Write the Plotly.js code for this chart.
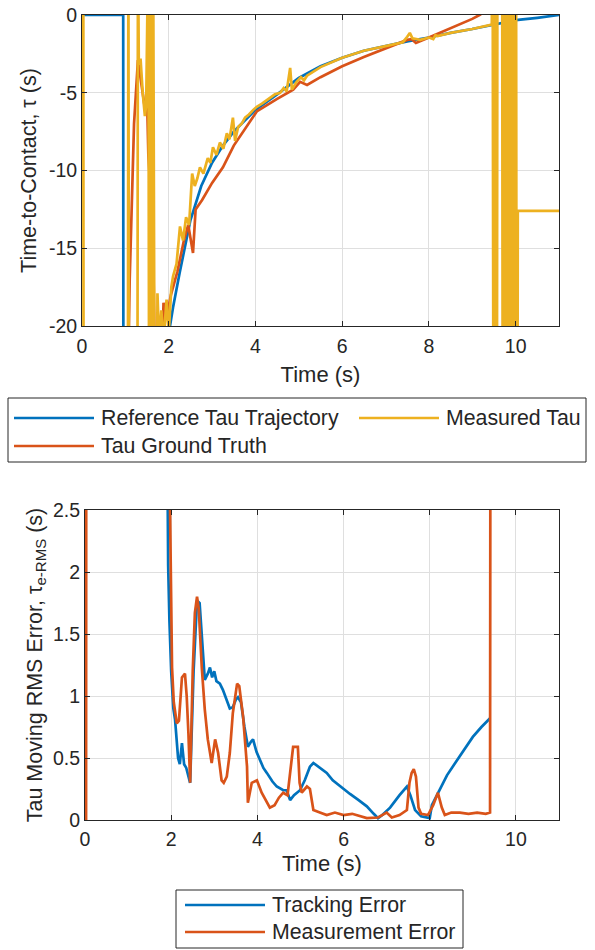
<!DOCTYPE html>
<html>
<head>
<meta charset="utf-8">
<script src="https://cdn.plot.ly/plotly-3.0.1.min.js"></script>
<style>html,body{margin:0;padding:0;background:#fff}#chart{width:595px;height:950px}</style>
</head>
<body>
<div id="chart"></div>
<script>
// ---------------- DATA ----------------
// Top panel: Time-to-Contact (s)
const refT   = [0, 0.95, 0.96, 1.95, 2.0, 2.1, 2.25, 2.5, 2.75, 3.0, 3.25, 3.5, 3.75, 4.0, 4.5, 5.0, 5.5, 6.0, 6.5, 7.0, 7.5, 8.0, 8.5, 9.0, 9.5, 10.0, 10.5, 11.0];
const refTau = [0, 0, -60, -22, -20.5, -18.8, -16.6, -13.2, -11.0, -9.5, -8.4, -7.5, -6.8, -6.1, -5.1, -4.05, -3.3, -2.75, -2.3, -2.0, -1.7, -1.45, -1.15, -0.9, -0.62, -0.33, -0.18, 0];

const gtT   = [1.0, 1.05, 1.1, 1.2, 1.29, 1.38, 1.45, 1.5, 1.53, 1.56, 1.6, 1.63, 1.68, 1.72, 1.82, 1.88, 1.95, 2.05, 2.2, 2.35, 2.45, 2.56, 2.62, 2.77, 3.0, 3.25, 3.5, 3.7, 4.03, 4.5, 4.87, 5.03, 5.19, 5.5, 6.0, 6.5, 7.0, 7.5, 7.6, 7.7, 8.0, 8.5, 9.0, 9.2];
const gtTau = [-40, -25, -17, -7, -2.9, -4.5, -6.0, -5.3, -9.0, -10.4, -14.5, -13.0, -20.5, -30, -25, -18.5, -19.5, -18.0, -16.5, -14.5, -13.5, -15.3, -12.5, -11.9, -10.8, -9.8, -8.4, -7.6, -6.2, -5.4, -4.8, -4.3, -4.5, -4.0, -3.3, -2.7, -2.15, -1.6, -1.55, -1.8, -1.45, -0.85, -0.25, 0.05];

const measT   = [0, 0.03, 0.04, 1.05, 1.07, 1.09, 1.27, 1.29, 1.31, 1.35, 1.4, 1.45, 1.48, 1.53, 1.56, 1.59, 1.62, 1.64, 1.67, 1.7, 1.74, 1.78, 1.83, 1.88, 1.95, 2.0, 2.06, 2.1, 2.18, 2.26, 2.33, 2.4, 2.47, 2.54, 2.6, 2.66, 2.72, 2.8, 2.9, 2.96, 3.02, 3.1, 3.18, 3.26, 3.34, 3.4, 3.48, 3.53, 3.6, 3.68, 3.76, 3.85, 3.95, 4.03, 4.15, 4.25, 4.35, 4.45, 4.57, 4.65, 4.72, 4.8, 4.84, 4.95, 5.05, 5.12, 5.19, 5.3, 5.5, 6.0, 6.5, 7.0, 7.4, 7.5, 7.56, 7.62, 7.8, 8.0, 8.1, 8.15, 8.2, 8.5, 9.0, 9.45, 9.47, 9.5, 9.53, 9.56, 9.58, 9.69, 9.71, 9.73, 9.75, 9.77, 9.79, 9.81, 9.83, 9.85, 9.87, 9.89, 9.91, 9.93, 9.95, 9.97, 9.99, 10.01, 10.03, 10.05, 11.0];
const measTau = [5, 5, -50, -50, 5, -50, -50, 5, -3.2, -2.8, -5.0, -6.5, -5.8, 5, -50, 5, -50, 5, -50, -50, -17.9, -21, -19, -21, -18.3, -20.5, -17.5, -16.8, -16.0, -13.6, -14.5, -13.0, -13.5, -10.2, -11.0, -10.5, -9.8, -10.2, -9.2, -9.5, -8.5, -9.0, -8.2, -8.6, -7.6, -8.0, -6.6, -8.1, -7.2, -7.0, -6.6, -6.4, -6.1, -5.9, -5.7, -5.5, -5.3, -5.1, -5.0, -4.7, -4.9, -3.4, -4.8, -4.3, -4.0, -4.2, -3.9, -3.7, -3.35, -2.75, -2.3, -2.0, -1.75, -1.4, -1.15, -1.5, -1.6, -1.45, -1.55, -1.3, -1.35, -1.15, -0.9, -0.62, 5, -50, 5, -50, 5, 5, -50, 5, -50, 5, -50, 5, -50, 5, -50, 5, -50, 5, -50, 5, -50, 5, -50, -12.6, -12.6];

// Bottom panel: Tau moving RMS error (s)
const trkT   = [1.9, 1.93, 1.96, 2.0, 2.05, 2.09, 2.16, 2.2, 2.25, 2.3, 2.35, 2.44, 2.52, 2.6, 2.66, 2.72, 2.78, 2.85, 2.9, 2.95, 3.0, 3.05, 3.13, 3.2, 3.29, 3.36, 3.43, 3.5, 3.55, 3.62, 3.7, 3.78, 3.85, 3.9, 3.98, 4.06, 4.14, 4.22, 4.35, 4.45, 4.6, 4.68, 4.76, 4.85, 4.99, 5.1, 5.22, 5.3, 5.45, 5.61, 5.75, 5.92, 6.15, 6.35, 6.54, 6.7, 6.8, 6.9, 7.08, 7.3, 7.47, 7.55, 7.66, 7.8, 8.0, 8.05, 8.19, 8.4, 8.63, 8.8, 9.0, 9.2, 9.4];
const trkErr = [3.5, 2.05, 1.6, 1.2, 0.9, 0.81, 0.5, 0.45, 0.62, 0.45, 0.42, 0.3, 1.2, 1.77, 1.75, 1.4, 1.13, 1.18, 1.23, 1.15, 1.2, 1.12, 1.1, 1.05, 0.97, 0.9, 0.91, 0.97, 0.99, 0.95, 0.75, 0.59, 0.63, 0.65, 0.55, 0.48, 0.42, 0.38, 0.31, 0.27, 0.24, 0.24, 0.16, 0.2, 0.24, 0.32, 0.43, 0.46, 0.42, 0.38, 0.32, 0.27, 0.21, 0.16, 0.11, 0.05, 0.015, 0.04, 0.1, 0.2, 0.27, 0.2, 0.08, 0.03, 0.015, 0.12, 0.22, 0.36, 0.48, 0.57, 0.67, 0.75, 0.82];

const msT   = [0, 0.025, 0.035, 1.95, 1.97, 2.0, 2.02, 2.06, 2.09, 2.13, 2.18, 2.22, 2.25, 2.32, 2.36, 2.4, 2.44, 2.5, 2.55, 2.6, 2.64, 2.71, 2.78, 2.85, 2.94, 3.02, 3.09, 3.17, 3.22, 3.29, 3.36, 3.43, 3.53, 3.58, 3.67, 3.76, 3.78, 3.87, 3.99, 4.1, 4.2, 4.29, 4.4, 4.5, 4.6, 4.7, 4.8, 4.83, 4.94, 4.98, 5.03, 5.15, 5.22, 5.3, 5.45, 5.61, 5.8, 6.0, 6.2, 6.54, 6.8, 7.0, 7.12, 7.3, 7.47, 7.53, 7.58, 7.63, 7.68, 7.74, 7.8, 7.96, 8.08, 8.19, 8.28, 8.35, 8.5, 8.7, 8.9, 9.1, 9.3, 9.4, 9.42];
const msErr = [0, 0, 8, 8, 2.6, 1.6, 1.23, 0.95, 0.86, 0.78, 0.8, 1.0, 1.15, 1.18, 1.0, 0.7, 0.3, 1.2, 1.67, 1.8, 1.7, 1.23, 0.89, 0.65, 0.46, 0.65, 0.54, 0.32, 0.3, 0.35, 0.54, 0.86, 1.1, 1.08, 0.83, 0.43, 0.14, 0.3, 0.32, 0.22, 0.15, 0.1, 0.12, 0.18, 0.22, 0.2, 0.5, 0.59, 0.59, 0.3, 0.22, 0.27, 0.25, 0.08, 0.06, 0.04, 0.06, 0.04, 0.05, 0.015, 0.02, 0.06, 0.02, 0.04, 0.08, 0.3, 0.38, 0.41, 0.35, 0.1, 0.05, 0.04, 0.12, 0.22, 0.1, 0.04, 0.06, 0.06, 0.05, 0.06, 0.05, 0.06, 8];

// Tick values / labels
const xTicks = [0, 2, 4, 6, 8, 10];
const yTicksTop = [-20, -15, -10, -5, 0];
const yTickTextTop = ['-20', '-15', '-10', '-5', '0'];
const yTicksBot = [0, 0.5, 1, 1.5, 2, 2.5];
const yTickTextBot = ['0', '0.5', '1', '1.5', '2', '2.5'];

const topNames = ['Reference Tau Trajectory', 'Tau Ground Truth', 'Measured Tau'];
const botNames = ['Tracking Error', 'Measurement Error'];

// ---------------- STYLE ----------------
const C_BLUE = '#0072BD', C_ORANGE = '#D95319', C_YELLOW = '#EDB120';
const AX = '#262626', GRID = '#dfdfdf';
const FONT = 'Liberation Sans, Arial, Helvetica, sans-serif';
const LW = 2.7;

const L = 82, R = 559, T = 15, B = 820, W = 595, H = 950;
function px(x) { return (x - L) / (R - L); }
function py(y) { return (B - y) / (B - T); }

const traces = [
  {x: refT, y: refTau, name: topNames[0], mode: 'lines', line: {color: C_BLUE, width: LW}, xaxis: 'x', yaxis: 'y'},
  {x: gtT, y: gtTau, name: topNames[1], mode: 'lines', line: {color: C_ORANGE, width: LW}, xaxis: 'x', yaxis: 'y'},
  {x: measT, y: measTau, name: topNames[2], mode: 'lines', line: {color: C_YELLOW, width: LW}, xaxis: 'x', yaxis: 'y'},
  {x: trkT, y: trkErr, name: botNames[0], mode: 'lines', line: {color: C_BLUE, width: LW}, xaxis: 'x2', yaxis: 'y2'},
  {x: msT, y: msErr, name: botNames[1], mode: 'lines', line: {color: C_ORANGE, width: LW}, xaxis: 'x2', yaxis: 'y2'}
];

function axisBase() {
  return {
    showline: true, linecolor: AX, linewidth: 1, mirror: 'ticks',
    ticks: 'inside', ticklen: 5, tickcolor: AX, tickwidth: 1,
    showgrid: true, gridcolor: GRID, gridwidth: 1, zeroline: false,
    tickfont: {family: FONT, size: 19.5, color: AX},
    automargin: false
  };
}

const xaxis = Object.assign(axisBase(), {
  domain: [0, 1], range: [0, 11], tickvals: xTicks, anchor: 'y', ticklabelstandoff: 3,
  title: {text: 'Time (s)', font: {family: FONT, size: 22, color: AX}, standoff: 10}
});
const xaxis2 = Object.assign(axisBase(), {
  domain: [px(85), 1], range: [0, 11], tickvals: xTicks, anchor: 'y2', ticklabelstandoff: 2,
  title: {text: 'Time (s)', font: {family: FONT, size: 22, color: AX}, standoff: 6}
});
const yaxis = Object.assign(axisBase(), {
  domain: [py(326), 1], range: [-20, 0], tickvals: yTicksTop, ticktext: yTickTextTop, anchor: 'x',
  title: {text: 'Time-to-Contact, \u03c4 (s)', font: {family: FONT, size: 21.5, color: AX}, standoff: 6}
});
const yaxis2 = Object.assign(axisBase(), {
  domain: [0, py(510)], range: [0, 2.5], tickvals: yTicksBot, ticktext: yTickTextBot, anchor: 'x2',
  title: {text: 'Tau Moving RMS Error, \u03c4<sub>e-RMS</sub> (s)', font: {family: FONT, size: 21.5, color: AX}, standoff: 4}
});

// Legend boxes (MATLAB style) built from shapes + text
const shapes = [];
const annotations = [];
function legendBox(x0, y0, x1, y1) {
  shapes.push({type: 'rect', xref: 'paper', yref: 'paper', x0: px(x0), x1: px(x1), y0: py(y1), y1: py(y0),
    line: {color: AX, width: 1}, fillcolor: 'rgba(255,255,255,1)', layer: 'above'});
}
function legendItem(lx0, lx1, ly, color, text) {
  shapes.push({type: 'line', xref: 'paper', yref: 'paper', x0: px(lx0), x1: px(lx1), y0: py(ly), y1: py(ly),
    line: {color: color, width: LW}, layer: 'above'});
  annotations.push({xref: 'paper', yref: 'paper', x: px(lx1 + 5), y: py(ly), xanchor: 'left', yanchor: 'middle',
    text: text, showarrow: false, font: {family: FONT, size: 21.3, color: AX}});
}
legendBox(8, 398, 586, 462);
legendItem(14, 94, 418, C_BLUE, topNames[0]);
legendItem(359, 439, 418, C_YELLOW, topNames[2]);
legendItem(14, 94, 446, C_ORANGE, topNames[1]);

legendBox(176, 890, 463, 948);
legendItem(185, 265, 905, C_BLUE, botNames[0]);
legendItem(185, 265, 932, C_ORANGE, botNames[1]);

const layout = {
  width: W, height: H,
  margin: {l: L, r: W - R, t: T, b: H - B, pad: 0},
  paper_bgcolor: '#fff', plot_bgcolor: '#fff',
  showlegend: false, hovermode: false,
  font: {family: FONT, color: AX},
  xaxis: xaxis, yaxis: yaxis, xaxis2: xaxis2, yaxis2: yaxis2,
  shapes: shapes, annotations: annotations
};

Plotly.newPlot('chart', traces, layout, {displayModeBar: false, staticPlot: true});
</script>
</body>
</html>
